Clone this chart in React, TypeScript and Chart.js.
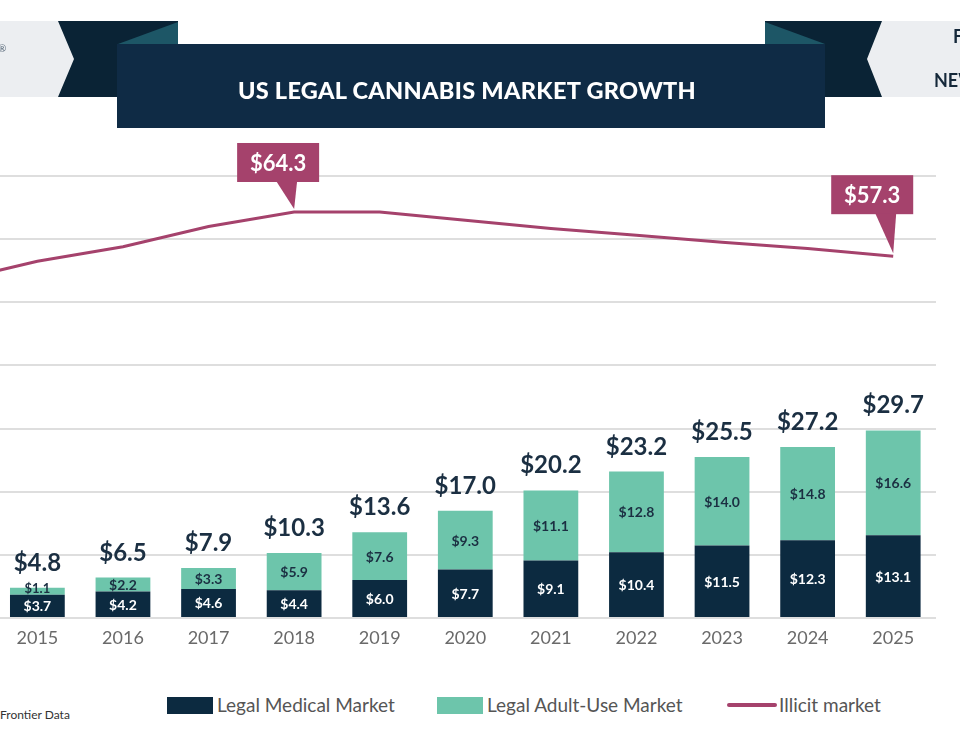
import React, { useEffect, useRef } from 'react';
import { Chart, registerables } from 'chart.js';

Chart.register(...registerables);

// ---------- data ----------
const years = ['2014', '2015', '2016', '2017', '2018', '2019', '2020', '2021', '2022', '2023', '2024', '2025'];
const legalMedical = [null, 3.7, 4.2, 4.6, 4.4, 6.0, 7.7, 9.1, 10.4, 11.5, 12.3, 13.1];
const legalAdultUse = [null, 1.1, 2.2, 3.3, 5.9, 7.6, 9.3, 11.1, 12.8, 14.0, 14.8, 16.6];
const legalTotal = [null, 4.8, 6.5, 7.9, 10.3, 13.6, 17.0, 20.2, 23.2, 25.5, 27.2, 29.7];
const illicitMarket = [53.3, 56.5, 58.8, 62.0, 64.3, 64.3, 63.0, 61.7, 60.6, 59.5, 58.5, 57.3];
const calloutYears = ['2018', '2025'];
const yTickValues = [0, 10, 20, 30, 40, 50, 60, 70];
const titleText = 'US LEGAL CANNABIS MARKET GROWTH';
const legendLabels = ['Legal Medical Market', 'Legal Adult-Use Market', 'Illicit market'];
const sourceText = 'Frontier Data';

// ---------- styles ----------
const NAVY = '#0c2a40';
const TEAL = '#6dc5ab';
const PLUM = '#a5426c';
const LABEL_NAVY = '#1b2f42';
const GRID = '#dedede';
const FONT = 'Lato, "Open Sans", sans-serif';

// callout geometry per highlighted year (box offset from point, gap under box)
const calloutStyle: Record<string, { shiftX: number; gap: number }> = {
  '2018': { shiftX: -16, gap: 30 },
  '2025': { shiftX: -21, gap: 42 },
};

const fmt = (v: number) => '$' + v.toFixed(1);

const labelPlugin = {
  id: 'valueLabels',
  afterDatasetsDraw(chart: any) {
    const ctx = chart.ctx as CanvasRenderingContext2D;
    const medMeta = chart.getDatasetMeta(0);
    const adMeta = chart.getDatasetMeta(1);
    const lineMeta = chart.getDatasetMeta(2);
    ctx.save();
    ctx.textAlign = 'center';
    for (let i = 0; i < years.length; i++) {
      const total = legalTotal[i];
      const med = legalMedical[i];
      const ad = legalAdultUse[i];
      if (total == null || med == null || ad == null) continue;
      const m = medMeta.data[i];
      const a = adMeta.data[i];
      ctx.textBaseline = 'middle';
      ctx.font = `bold 14px ${FONT}`;
      ctx.fillStyle = '#ffffff';
      ctx.fillText(fmt(med), m.x, (m.y + m.base) / 2 + 1);
      ctx.fillStyle = LABEL_NAVY;
      ctx.font = `bold ${ad < 2 ? 13 : 14}px ${FONT}`;
      ctx.fillText(fmt(ad), a.x, (a.y + a.base) / 2 + (ad < 2 ? -2 : 1));
      ctx.textBaseline = 'alphabetic';
      ctx.font = `bold 24px ${FONT}`;
      ctx.fillText(fmt(total), a.x, a.y - 17);
    }
    // callouts on illicit line
    calloutYears.forEach((yr) => {
      const idx = years.indexOf(yr);
      const p = lineMeta.data[idx];
      const st = calloutStyle[yr];
      const w = 82;
      const h = 39;
      const cx = p.x + st.shiftX;
      const bottom = p.y - st.gap;
      const top = bottom - h;
      ctx.fillStyle = PLUM;
      ctx.fillRect(cx - w / 2, top, w, h);
      ctx.beginPath();
      ctx.moveTo(p.x - 18, bottom - 1);
      ctx.lineTo(p.x + 3, bottom - 1);
      ctx.lineTo(p.x, p.y - 3);
      ctx.closePath();
      ctx.fill();
      ctx.fillStyle = '#ffffff';
      ctx.font = `bold 22px ${FONT}`;
      ctx.textBaseline = 'middle';
      ctx.fillText(fmt(illicitMarket[idx]), cx, top + h / 2 + 1);
    });
    ctx.restore();
  },
};

function ChartCanvas() {
  const ref = useRef<HTMLCanvasElement | null>(null);
  useEffect(() => {
    if (!ref.current) return;
    const chart = new Chart(ref.current, {
      type: 'bar',
      data: {
        labels: years,
        datasets: [
          {
            type: 'bar',
            label: legendLabels[0],
            data: legalMedical as any,
            backgroundColor: NAVY,
            stack: 'legal',
            barPercentage: 0.64,
            categoryPercentage: 1,
            order: 2,
          },
          {
            type: 'bar',
            label: legendLabels[1],
            data: legalAdultUse as any,
            backgroundColor: TEAL,
            stack: 'legal',
            barPercentage: 0.64,
            categoryPercentage: 1,
            order: 2,
          },
          {
            type: 'line',
            label: legendLabels[2],
            data: illicitMarket,
            borderColor: PLUM,
            borderWidth: 3,
            pointRadius: 0,
            tension: 0,
            stack: 'illicit',
            order: 1,
          } as any,
        ],
      },
      options: {
        responsive: false,
        animation: false,
        devicePixelRatio: 1,
        layout: { padding: { top: 176, left: 0, right: 0, bottom: 0 } },
        plugins: {
          legend: { display: false },
          tooltip: { enabled: false },
        },
        scales: {
          x: {
            stacked: true,
            grid: { display: false, drawTicks: false },
            border: { display: false },
            ticks: {
              color: '#6a6a6a',
              font: { family: FONT, size: 18 },
              padding: 9,
              autoSkip: false,
              maxRotation: 0,
            },
            afterFit: (s: any) => {
              s.height = 42;
            },
          },
          y: {
            stacked: true,
            min: 0,
            max: 70,
            grid: { color: GRID, lineWidth: 2, drawTicks: false },
            border: { display: false },
            ticks: { display: false, stepSize: 10 },
            afterBuildTicks: (s: any) => {
              s.ticks = yTickValues.map((v) => ({ value: v }));
            },
            afterFit: (s: any) => {
              s.width = 0;
            },
          },
        },
      },
      plugins: [labelPlugin],
    });
    return () => chart.destroy();
  }, []);
  return (
    <canvas
      ref={ref}
      width={1027}
      height={660}
      style={{ position: 'absolute', left: -91, top: 0, width: 1027, height: 660 }}
    />
  );
}

export default function App() {
  const legendText: React.CSSProperties = {
    position: 'absolute',
    top: 695,
    fontFamily: FONT,
    fontSize: 19,
    lineHeight: '20px',
    color: '#555555',
    whiteSpace: 'nowrap',
  };
  return (
    <div
      style={{
        position: 'fixed',
        left: 0,
        top: 0,
        width: 960,
        height: 750,
        overflow: 'hidden',
        background: '#ffffff',
      }}
    >
      <ChartCanvas />
      <svg
        width={960}
        height={140}
        style={{ position: 'absolute', left: 0, top: 0 }}
      >
        <rect x={0} y={21} width={80} height={76} fill="#eceef1" />
        <polygon points="58,21 178,21 178,97 58,97 74,59" fill="#0a2335" />
        <polygon points="118,44 178,22 178,44" fill="#1d5666" />
        <rect x={862} y={21} width={98} height={76} fill="#eceef1" />
        <polygon points="765,21 882,21 867,59 882,97 765,97" fill="#0a2335" />
        <polygon points="765,22 825,44 765,44" fill="#1d5666" />
        <rect x={117} y={44} width={708} height={84} fill="#0f2b45" />
        <polygon points="940,289 960,266 960,289" fill="#17656f" />
      </svg>
      <div
        style={{
          position: 'absolute',
          left: 113,
          top: 48,
          width: 708,
          height: 84,
          display: 'flex',
          alignItems: 'center',
          justifyContent: 'center',
          color: '#ffffff',
          fontFamily: FONT,
          fontWeight: 900,
          fontSize: 23.5,
          letterSpacing: 0.3,
        }}
      >
        {titleText}
      </div>
      <div style={{ position: 'absolute', left: -2, top: 42, fontFamily: FONT, fontSize: 10, color: '#556677' }}>®</div>
      <div style={{ position: 'absolute', left: 953, top: 25, fontFamily: FONT, fontWeight: 700, fontSize: 18, color: '#15283a', whiteSpace: 'nowrap' }}>F</div>
      <div style={{ position: 'absolute', left: 934, top: 69, fontFamily: FONT, fontWeight: 700, fontSize: 18, color: '#15283a', whiteSpace: 'nowrap' }}>NEW</div>

      <div style={{ position: 'absolute', left: 167, top: 697, width: 46, height: 17, background: NAVY }} />
      <div style={{ ...legendText, left: 217 }}>{legendLabels[0]}</div>
      <div style={{ position: 'absolute', left: 437, top: 697, width: 46, height: 17, background: TEAL }} />
      <div style={{ ...legendText, left: 487 }}>{legendLabels[1]}</div>
      <div style={{ position: 'absolute', left: 727, top: 703, width: 50, height: 4, borderRadius: 2, background: PLUM }} />
      <div style={{ ...legendText, left: 779 }}>{legendLabels[2]}</div>
      <div style={{ position: 'absolute', left: 0, top: 707, fontFamily: FONT, fontSize: 12, color: '#333333', whiteSpace: 'nowrap' }}>{sourceText}</div>
    </div>
  );
}
